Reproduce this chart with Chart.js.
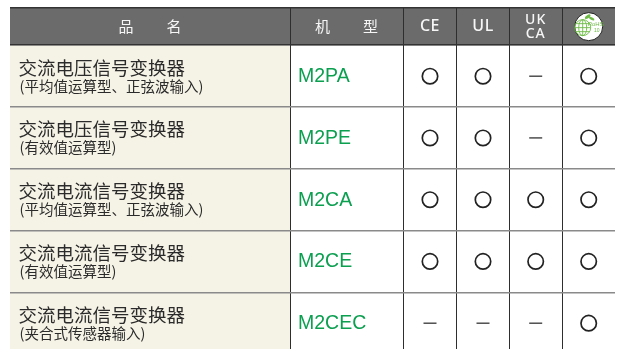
<!DOCTYPE html>
<html>
<head>
<meta charset="utf-8">
<style>
  html, body { margin: 0; padding: 0; background: #fff; }
  #wrap { width: 620px; height: 349px; }
</style>
</head>
<body>
<div id="wrap"><canvas id="myChart"></canvas></div>
<script src="https://cdn.jsdelivr.net/npm/chart.js@4/dist/chart.umd.min.js"></script>
<script>
const productNames = ["交流电压信号变换器", "交流电压信号变换器", "交流电流信号变换器", "交流电流信号变换器", "交流电流信号变换器"];
const productNotes = ["(平均值运算型、正弦波输入)", "(有效值运算型)", "(平均值运算型、正弦波输入)", "(有效值运算型)", "(夹合式传感器输入)"];
const models = ["M2PA", "M2PE", "M2CA", "M2CE", "M2CEC"];
// 1 = circle, 0 = dash
const ce = [1, 1, 1, 1, 0];
const ul = [1, 1, 1, 1, 0];
const ukca = [0, 0, 1, 1, 0];
const rohs = [1, 1, 1, 1, 1];

// table layout, x in px from the left border, y in row heights
const colEdges = [0, 280, 393.3, 446.5, 499.3, 552.3, 605];
const markCols = [420, 473, 525.7, 578.7];
const rowPx = 61.75;
const yMin = -37.3 / rowPx;
const yMax = 303.7 / rowPx;

const markSeries = [ce, ul, ukca, rohs];
function markPoints(kind) {
  let points = [];
  markSeries.forEach((series, col) => {
    series.forEach((v, row) => {
      if (v === kind) points.push({ x: markCols[col], y: row + 0.5 });
    });
  });
  return points;
}

function txt(c, s, x, y, font, color, align, spacing) {
  c.font = font;
  c.fillStyle = color;
  c.textAlign = align || "left";
  c.textBaseline = "middle";
  c.letterSpacing = spacing || "0px";
  c.fillText(s, x, y);
  c.letterSpacing = "0px";
}

function drawRohsLogo(c, cx, cy) {
  const green = "#6dbb45";
  c.save();
  c.beginPath();
  c.arc(cx, cy, 14, 0, Math.PI * 2);
  c.fillStyle = "#fff";
  c.fill();
  c.strokeStyle = "#222";
  c.lineWidth = 1;
  c.stroke();
  // globe
  const gx = cx - 6, gy = cy + 1;
  c.strokeStyle = green;
  c.lineWidth = 0.9;
  c.beginPath();
  c.arc(gx, gy, 8, 0, Math.PI * 2);
  c.stroke();
  c.beginPath();
  c.ellipse(gx, gy, 4, 8, 0, 0, Math.PI * 2);
  c.moveTo(gx, gy - 8);
  c.lineTo(gx, gy + 8);
  c.moveTo(gx - 8, gy);
  c.lineTo(gx + 8, gy);
  c.moveTo(gx - 6.9, gy - 4);
  c.lineTo(gx + 6.9, gy - 4);
  c.moveTo(gx - 6.9, gy + 4);
  c.lineTo(gx + 6.9, gy + 4);
  c.stroke();
  // sprout
  c.fillStyle = green;
  c.beginPath();
  c.ellipse(cx - 1, cy - 10, 3.2, 1.5, -0.6, 0, Math.PI * 2);
  c.ellipse(cx + 3, cy - 8, 3, 1.3, 0.5, 0, Math.PI * 2);
  c.fill();
  c.restore();
  txt(c, "RoHS", cx + 7, cy - 2, "6px 'Liberation Sans'", green, "center");
  txt(c, "10", cx + 8, cy + 4, "5px 'Liberation Sans'", green, "center");
}

const tablePlugin = {
  id: "tablePlugin",
  beforeDraw(chart) {
    const c = chart.ctx, x = chart.scales.x, y = chart.scales.y;
    c.save();
    c.fillStyle = "#6b6b6b";
    c.fillRect(x.left, y.top, x.width, y.getPixelForValue(0) - y.top);
    c.fillStyle = "#f5f2e6";
    c.fillRect(x.left, y.getPixelForValue(0), x.getPixelForValue(colEdges[1]) - x.left, y.bottom - y.getPixelForValue(0));
    c.restore();
  },
  afterDatasetsDraw(chart) {
    const c = chart.ctx, x = chart.scales.x, y = chart.scales.y;
    const headY = y.getPixelForValue(yMin / 2);
    const white = "#f6f6f6";
    const cjkHead = "15px 'Noto Sans CJK SC'";
    const latinHead = "500 16px 'Noto Sans'";
    c.save();
    txt(c, "品　　名", x.getPixelForValue(140.5), headY, cjkHead, white, "center", "1px");
    txt(c, "机　　型", x.getPixelForValue(337), headY, cjkHead, white, "center", "1px");
    txt(c, "CE", x.getPixelForValue(markCols[0]), headY, latinHead, white, "center", "0.5px");
    txt(c, "UL", x.getPixelForValue(markCols[1]), headY, latinHead, white, "center", "0.5px");
    txt(c, "UK", x.getPixelForValue(markCols[2]), headY - 7, "500 14px 'Noto Sans'", white, "center", "1px");
    txt(c, "CA", x.getPixelForValue(markCols[2]), headY + 7, "500 14px 'Noto Sans'", white, "center", "1px");
    drawRohsLogo(c, x.getPixelForValue(markCols[3]), headY);

    models.forEach((model, i) => {
      const mid = y.getPixelForValue(i + 0.5);
      txt(c, productNames[i], x.getPixelForValue(8.5), mid - 8.5, "18.5px 'Noto Sans CJK SC'", "#2b2b2b");
      txt(c, productNotes[i], x.getPixelForValue(9.5), mid + 10, "14.5px 'Noto Sans CJK SC'", "#2b2b2b");
      txt(c, model, x.getPixelForValue(288), mid + 0.5, "19.5px 'Liberation Sans'", "#0b9f50");
    });
    c.restore();
  }
};

new Chart(document.getElementById("myChart"), {
  type: "scatter",
  data: {
    datasets: [
      {
        label: "circle",
        data: markPoints(1),
        pointStyle: "circle",
        pointRadius: 7.7,
        pointBorderWidth: 1.7,
        pointBorderColor: "#222",
        pointBackgroundColor: "rgba(0,0,0,0)"
      },
      {
        label: "dash",
        data: markPoints(0),
        pointStyle: "line",
        pointRadius: 6.5,
        pointBorderWidth: 1.2,
        pointBorderColor: "#222"
      }
    ]
  },
  plugins: [tablePlugin],
  options: {
    responsive: true,
    maintainAspectRatio: false,
    animation: false,
    layout: { autoPadding: false, padding: { left: 10, right: 5, top: 8, bottom: 0 } },
    plugins: { legend: { display: false }, tooltip: { enabled: false } },
    scales: {
      x: {
        type: "linear",
        min: 0,
        max: 605,
        afterBuildTicks(axis) { axis.ticks = colEdges.map(v => ({ value: v })); },
        ticks: { display: false },
        border: { display: false },
        grid: {
          drawTicks: false,
          lineWidth: 1,
          color: ctx => (ctx.tick.value === 0 || ctx.tick.value === 605) ? "rgba(0,0,0,0)" : "#2e2e2e"
        }
      },
      y: {
        type: "linear",
        reverse: true,
        min: yMin,
        max: yMax,
        afterBuildTicks(axis) { axis.ticks = [yMin, 0, 1, 2, 3, 4].map(v => ({ value: v })); },
        ticks: { display: false },
        border: { display: false },
        grid: {
          drawTicks: false,
          lineWidth: ctx => ctx.tick.value <= 0 ? 1.6 : 1.4,
          color: ctx => ctx.tick.value <= 0 ? "#333" : "#8a8a8a"
        }
      }
    }
  }
});
</script>
</body>
</html>
